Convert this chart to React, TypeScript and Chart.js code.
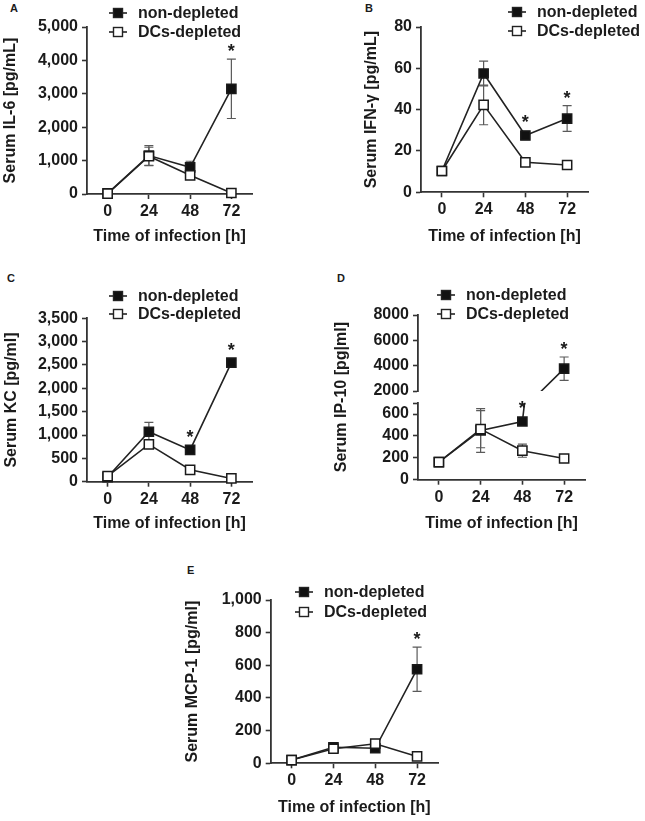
import { useEffect, useRef } from "react";
import { Chart, registerables } from "chart.js";

Chart.register(...registerables);

// hours after infection, and the two mouse groups
const hours = ["0", "24", "48", "72"];
const groups = ["non-depleted", "DCs-depleted"];

// A - IL-6
const il6NonDepleted = [20, 1150, 800, 3150];
const il6NonDepletedSem = [0, 300, 180, 890];
const il6DcsDepleted = [10, 1130, 560, 30];
const il6DcsDepletedSem = [0, 270, 70, 0];
const il6Stars = [false, false, false, true];
const il6Ticks = [0, 1000, 2000, 3000, 4000, 5000];

// B - IFN-γ
const ifnNonDepleted = [10.3, 57.5, 27.5, 35.7];
const ifnNonDepletedSem = [0, 6, 2, 6.2];
const ifnDcsDepleted = [10.3, 42.3, 14.5, 13.2];
const ifnDcsDepletedSem = [0, 9.6, 1.2, 1];
const ifnStars = [false, false, true, true];
const ifnTicks = [0, 20, 40, 60, 80];

// C - KC
const kcNonDepleted = [100, 1070, 680, 2550];
const kcNonDepletedSem = [0, 200, 40, 70];
const kcDcsDepleted = [120, 800, 255, 70];
const kcDcsDepletedSem = [0, 0, 30, 0];
const kcStars = [false, false, true, true];
const kcTicks = [0, 500, 1000, 1500, 2000, 2500, 3000, 3500];

// D - IP-10 (broken y axis)
const ip10NonDepleted = [160, 450, 532, 3770];
const ip10NonDepletedSem = [0, 200, 25, 920];
const ip10DcsDepleted = [160, 462, 265, 194];
const ip10DcsDepletedSem = [0, 170, 60, 0];
const ip10Stars = [false, false, true, true];
const ip10LowTicks = [0, 200, 400, 600, 700];
const ip10HighTicks = [2000, 4000, 6000, 8000];

// E - MCP-1
const mcpNonDepleted = [20, 98, 92, 576];
const mcpNonDepletedSem = [0, 8, 8, 135];
const mcpDcsDepleted = [20, 89, 120, 42];
const mcpDcsDepletedSem = [0, 6, 6, 4];
const mcpStars = [false, false, false, true];
const mcpTicks = [0, 200, 400, 600, 800, 1000];

const FONT = '"Liberation Sans", Arial, Helvetica, sans-serif';
const INK = "#1b1b1b";
const AXIS = "#333333";
const LINE = "#222222";
const BAR = "#5a5a5a";
const axisFont = { family: FONT, size: 16, weight: "bold" };
const comma = (v) => Number(v).toLocaleString("en-US");
const plain = (v) => String(v);

function series(name, data, sem, stars, filled, yAxisID = "y") {
  return {
    label: name,
    data,
    sem,
    stars,
    yAxisID,
    order: filled ? 2 : 1, // open squares sit on top
    borderColor: LINE,
    borderWidth: 1.6,
    pointStyle: "rect",
    pointRadius: 6.5,
    pointHoverRadius: 6.5,
    pointBackgroundColor: filled ? "#111111" : "#ffffff",
    pointBorderColor: "#1a1a1a",
    pointBorderWidth: 1.5,
    tension: 0,
    clip: false,
  };
}

function valueAxis(min, max, ticks, fmt, width, extra = {}) {
  return {
    type: "linear",
    position: "left",
    min,
    max,
    afterBuildTicks: (s) => {
      s.ticks = ticks.map((value) => ({ value }));
    },
    afterFit: (s) => {
      s.width = width;
    },
    grid: { display: true, drawOnChartArea: false, drawTicks: true, tickLength: 5, tickWidth: 1.6, tickColor: AXIS },
    border: { display: true, color: AXIS, width: 1.8 },
    ticks: { color: INK, font: axisFont, padding: 4, callback: fmt, autoSkip: false },
    title: { display: false },
    ...extra,
  };
}

const semBars = {
  id: "semBars",
  beforeDatasetsDraw(chart) {
    const { ctx } = chart;
    chart.data.datasets.forEach((ds, di) => {
      const meta = chart.getDatasetMeta(di);
      const x = meta.xScale;
      const y = meta.yScale;
      ctx.save();
      ctx.beginPath();
      ctx.rect(x.left - 20, y.top, x.right - x.left + 40, y.bottom - y.top);
      ctx.clip();
      ctx.strokeStyle = BAR;
      ctx.lineWidth = 1.2;
      ds.data.forEach((v, i) => {
        const e = ds.sem[i];
        if (!e || v < y.min || v > y.max) return;
        const px = x.getPixelForValue(i);
        const top = y.getPixelForValue(v + e);
        const bot = y.getPixelForValue(v - e);
        ctx.beginPath();
        ctx.moveTo(px, top);
        ctx.lineTo(px, bot);
        ctx.moveTo(px - 4.5, top);
        ctx.lineTo(px + 4.5, top);
        ctx.moveTo(px - 4.5, bot);
        ctx.lineTo(px + 4.5, bot);
        ctx.stroke();
      });
      ctx.restore();
    });
  },
};

const stars = {
  id: "stars",
  afterDatasetsDraw(chart) {
    const { ctx } = chart;
    ctx.save();
    ctx.font = `bold 18px ${FONT}`;
    ctx.fillStyle = INK;
    ctx.textAlign = "center";
    ctx.textBaseline = "alphabetic";
    chart.data.datasets.forEach((ds, di) => {
      const meta = chart.getDatasetMeta(di);
      const x = meta.xScale;
      const y = meta.yScale;
      ds.stars.forEach((s, i) => {
        const v = ds.data[i];
        if (!s || v < y.min || v > y.max) return;
        const px = x.getPixelForValue(i);
        const top = Math.min(y.getPixelForValue(v + (ds.sem[i] || 0)), y.getPixelForValue(v) - 5);
        ctx.fillText("*", px, top - 2);
      });
    });
    ctx.restore();
  },
};

// clip each dataset to its own y segment (broken axis)
const segmentClip = {
  id: "segmentClip",
  beforeDatasetDraw(chart, args) {
    const { ctx } = chart;
    const x = args.meta.xScale;
    const y = args.meta.yScale;
    ctx.save();
    ctx.beginPath();
    ctx.rect(x.left - 20, y.top, x.right - x.left + 40, y.bottom - y.top);
    ctx.clip();
  },
  afterDatasetDraw(chart) {
    chart.ctx.restore();
  },
};

function groupLegend(lx, ly1, ly2) {
  return {
    id: "groupLegend",
    afterDraw(chart) {
      const { ctx } = chart;
      ctx.save();
      ctx.font = `bold 16px ${FONT}`;
      ctx.textBaseline = "middle";
      ctx.textAlign = "left";
      [ly1, ly2].forEach((y, i) => {
        ctx.strokeStyle = LINE;
        ctx.lineWidth = 1.6;
        ctx.beginPath();
        ctx.moveTo(lx - 9, y);
        ctx.lineTo(lx + 9, y);
        ctx.stroke();
        ctx.fillStyle = i === 0 ? "#111111" : "#ffffff";
        ctx.fillRect(lx - 4.5, y - 4.5, 9, 9);
        ctx.lineWidth = 1.4;
        ctx.strokeRect(lx - 4.5, y - 4.5, 9, 9);
        ctx.fillStyle = INK;
        ctx.fillText(groups[i], lx + 20, y + 1);
      });
      ctx.restore();
    },
  };
}

const panels = [
  {
    letter: "A", letterAt: [10, 3],
    box: { left: 0, top: 0, width: 320, height: 248 },
    plot: { left: 87, right: 252, top: 27, bottom: 194 },
    yTitle: "Serum IL-6 [pg/mL]", yTitleX: 10.5,
    legend: [118, 13, 32],
    non: [il6NonDepleted, il6NonDepletedSem], dcs: [il6DcsDepleted, il6DcsDepletedSem], stars: il6Stars,
    range: [0, 5000], ticks: il6Ticks, fmt: comma,
  },
  {
    letter: "B", letterAt: [365, 3],
    box: { left: 330, top: 0, width: 315, height: 248 },
    plot: { left: 421, right: 588, top: 27, bottom: 192.3 },
    yTitle: "Serum IFN-γ [pg/mL]", yTitleX: 372,
    legend: [517, 12, 31],
    non: [ifnNonDepleted, ifnNonDepletedSem], dcs: [ifnDcsDepleted, ifnDcsDepletedSem], stars: ifnStars,
    range: [0, 80], ticks: ifnTicks, fmt: plain,
  },
  {
    letter: "C", letterAt: [7, 273],
    box: { left: 0, top: 262, width: 320, height: 273 },
    plot: { left: 87, right: 252, top: 318.3, bottom: 481.7 },
    yTitle: "Serum KC [pg/ml]", yTitleX: 11.5,
    legend: [118, 296, 314],
    non: [kcNonDepleted, kcNonDepletedSem], dcs: [kcDcsDepleted, kcDcsDepletedSem], stars: kcStars,
    range: [0, 3500], ticks: kcTicks, fmt: comma,
  },
  {
    letter: "D", letterAt: [337, 273], broken: true,
    box: { left: 325, top: 262, width: 320, height: 273 },
    plot: { left: 418, right: 585, top: 315, bottom: 479.7 },
    yTitle: "Serum IP-10 [pg|ml]", yTitleX: 342,
    legend: [446, 295, 314],
    non: [ip10NonDepleted, ip10NonDepletedSem], dcs: [ip10DcsDepleted, ip10DcsDepletedSem], stars: ip10Stars,
  },
  {
    letter: "E", letterAt: [187, 565],
    box: { left: 175, top: 560, width: 290, height: 259 },
    plot: { left: 270.7, right: 438, top: 600, bottom: 763.3 },
    yTitle: "Serum MCP-1 [pg/ml]", yTitleX: 193,
    legend: [304, 592, 612],
    non: [mcpNonDepleted, mcpNonDepletedSem], dcs: [mcpDcsDepleted, mcpDcsDepletedSem], stars: mcpStars,
    range: [0, 1000], ticks: mcpTicks, fmt: comma,
  },
];

function makeConfig(p) {
  const { box, plot } = p;
  const yWidth = plot.left - box.left;
  const xHeight = box.top + box.height - plot.bottom;
  const yTitle = {
    display: true,
    text: p.yTitle,
    color: INK,
    font: axisFont,
    padding: { top: p.yTitleX - box.left - 9.6, bottom: 0 },
  };
  const noStars = [false, false, false, false];

  const x = {
    type: "category",
    offset: true,
    afterFit: (s) => {
      s.height = xHeight;
    },
    grid: { display: true, drawOnChartArea: false, drawTicks: true, tickLength: 5, tickWidth: 1.6, tickColor: AXIS, offset: false },
    border: { display: true, color: AXIS, width: 1.8 },
    ticks: { color: INK, font: axisFont, padding: 3, maxRotation: 0, autoSkip: false },
    title: { display: true, text: "Time of infection [h]", color: INK, font: axisFont, padding: { top: 0, bottom: 2 } },
  };

  let scales;
  let datasets;
  if (p.broken) {
    scales = {
      x,
      y: valueAxis(0, 700, ip10LowTicks, (v) => (v === 700 ? "" : plain(v)), yWidth, { stack: "ip10", stackWeight: 76.5 }),
      yGap: {
        type: "linear",
        position: "left",
        stack: "ip10",
        stackWeight: 12,
        min: 0,
        max: 1,
        afterFit: (s) => {
          s.width = yWidth;
        },
        grid: { display: false },
        border: { display: false },
        ticks: { display: false },
        title: yTitle,
      },
      yTop: valueAxis(2000, 8000, ip10HighTicks, plain, yWidth, { stack: "ip10", stackWeight: 76 }),
    };
    datasets = [
      series(groups[0], p.non[0], p.non[1], p.stars, true, "y"),
      series(groups[0], p.non[0], p.non[1], p.stars, true, "yTop"),
      series(groups[1], p.dcs[0], p.dcs[1], noStars, false, "y"),
    ];
  } else {
    scales = { x, y: valueAxis(p.range[0], p.range[1], p.ticks, p.fmt, yWidth, { title: yTitle }) };
    datasets = [
      series(groups[0], p.non[0], p.non[1], p.stars, true),
      series(groups[1], p.dcs[0], p.dcs[1], noStars, false),
    ];
  }

  const plugins = [semBars, stars, groupLegend(p.legend[0] - box.left, p.legend[1] - box.top, p.legend[2] - box.top)];
  if (p.broken) plugins.push(segmentClip);

  return {
    type: "line",
    data: { labels: hours, datasets },
    options: {
      animation: false,
      responsive: true,
      maintainAspectRatio: false,
      events: [],
      layout: {
        padding: { top: plot.top - box.top, left: 0, right: box.left + box.width - plot.right, bottom: 0 },
      },
      plugins: { legend: { display: false }, tooltip: { enabled: false } },
      scales,
    },
    plugins,
  };
}

function Panel({ spec }) {
  const canvasRef = useRef(null);
  useEffect(() => {
    const chart = new Chart(canvasRef.current, makeConfig(spec));
    return () => chart.destroy();
  }, [spec]);
  const { box } = spec;
  return (
    <div style={{ position: "absolute", left: box.left, top: box.top, width: box.width, height: box.height }}>
      <canvas ref={canvasRef} />
    </div>
  );
}

export default function App() {
  return (
    <div style={{ position: "absolute", left: 0, top: 0, width: 645, height: 821, background: "#ffffff" }}>
      {panels.map((p) => (
        <div
          key={p.letter}
          style={{
            position: "absolute",
            left: p.letterAt[0],
            top: p.letterAt[1],
            font: `bold 11px ${FONT}`,
            lineHeight: "11px",
            color: INK,
          }}
        >
          {p.letter}
        </div>
      ))}
      {panels.map((p) => (
        <Panel key={p.letter + "-chart"} spec={p} />
      ))}
    </div>
  );
}
